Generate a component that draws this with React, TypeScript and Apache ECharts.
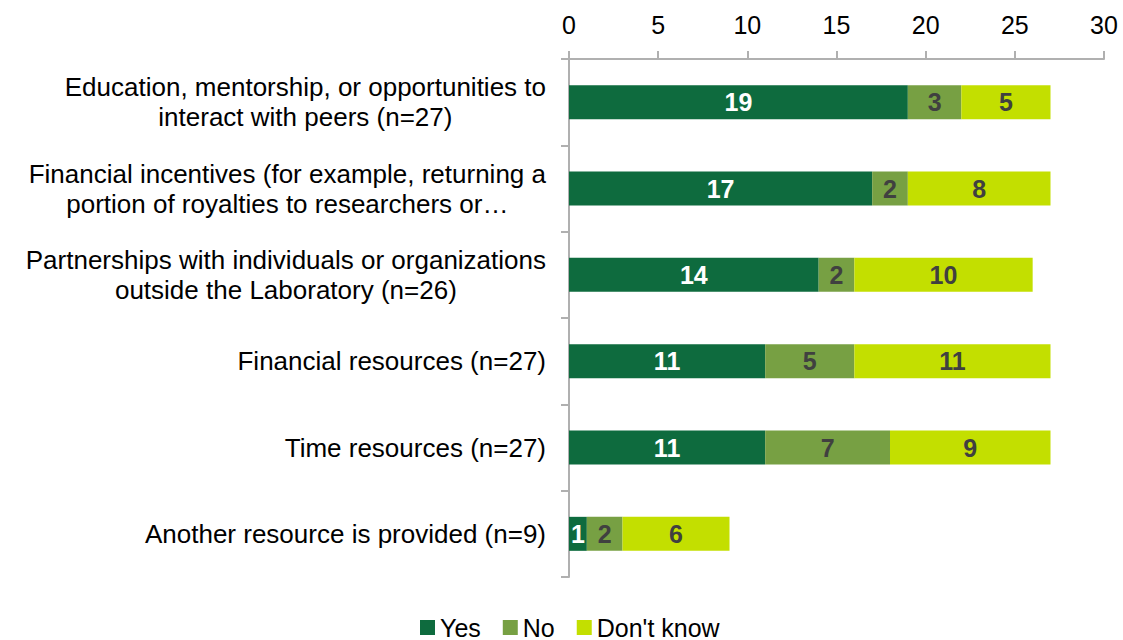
import React, { useEffect, useRef } from "react";
import * as echarts from "echarts";

const categories = [
  "Education, mentorship, or opportunities to\ninteract with peers (n=27)",
  "Financial incentives (for example, returning a\nportion of royalties to researchers or…",
  "Partnerships with individuals or organizations\noutside the Laboratory (n=26)",
  "Financial resources (n=27)",
  "Time resources (n=27)",
  "Another resource is provided (n=9)",
];
const yesValues = [19, 17, 14, 11, 11, 1];
const noValues = [3, 2, 2, 5, 7, 2];
const dontKnowValues = [5, 8, 10, 11, 9, 6];
const seriesNames = ["Yes", "No", "Don't know"];
const seriesColors = ["#0e6b3e", "#77a043", "#c3df00"];
const labelColors = ["#ffffff", "#404040", "#404040"];

const FONT = "'Liberation Sans', Arial, sans-serif";

export default function App() {
  const ref = useRef<HTMLDivElement>(null);
  useEffect(() => {
    document.body.style.margin = "0";
    if (!ref.current) return;
    const chart = echarts.init(ref.current, null, { renderer: "svg" });
    const values = [yesValues, noValues, dontKnowValues];
    chart.setOption({
      animation: false,
      textStyle: { fontFamily: FONT },
      legend: {
        data: seriesNames,
        left: 415,
        top: 610,
        itemWidth: 15,
        itemHeight: 15,
        itemGap: 22,
        icon: "rect",
        textStyle: { fontSize: 25, color: "#000", fontFamily: FONT },
      },
      grid: { left: 569, top: 59, width: 535, height: 518, containLabel: false },
      xAxis: {
        type: "value",
        position: "top",
        min: 0,
        max: 30,
        interval: 5,
        axisLine: { show: true, lineStyle: { color: "#b0b0b0", width: 2 } },
        axisTick: { show: true, length: 8, lineStyle: { color: "#b0b0b0", width: 2 } },
        splitLine: { show: false },
        axisLabel: { fontSize: 25, color: "#000", margin: 22, fontFamily: FONT },
      },
      yAxis: {
        type: "category",
        inverse: true,
        data: categories,
        axisLine: { show: true, lineStyle: { color: "#b0b0b0", width: 2 } },
        axisTick: { show: true, length: 8, lineStyle: { color: "#b0b0b0", width: 2 } },
        axisLabel: {
          margin: 23,
          align: "right",
          formatter: (v: string) =>
            v
              .split("\n")
              .map((l) => `{c|${l}}`)
              .join("\n"),
          rich: {
            c: { align: "center", fontSize: 26, lineHeight: 30, color: "#000", fontFamily: FONT },
          },
        },
      },
      series: seriesNames.map((name, i) => ({
        name,
        type: "bar",
        stack: "total",
        barWidth: 34,
        data: values[i],
        itemStyle: { color: seriesColors[i] },
        label: {
          show: true,
          position: "inside",
          color: labelColors[i],
          fontSize: 25,
          fontWeight: "bold",
          fontFamily: FONT,
        },
      })),
    });
    return () => chart.dispose();
  }, []);
  return <div ref={ref} style={{ width: 1123, height: 640 }} />;
}
